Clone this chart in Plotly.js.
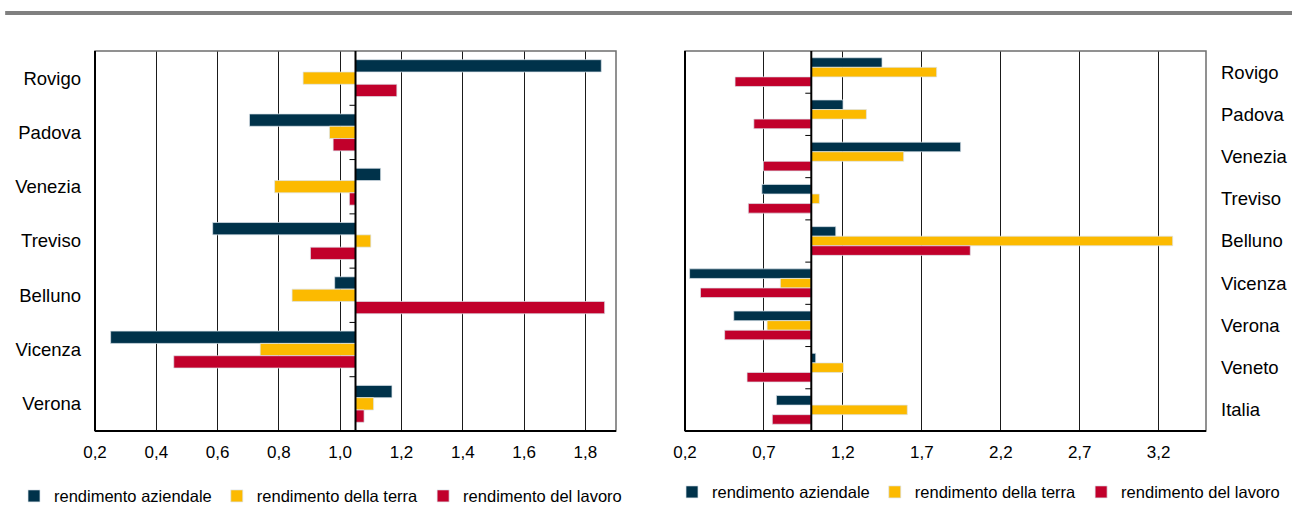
<!DOCTYPE html>
<html>
<head>
<meta charset="utf-8">
<script src="https://cdn.plot.ly/plotly-3.0.1.min.js"></script>
<style>
  html, body { margin: 0; padding: 0; background: #fff; }
  #chart { width: 1292px; height: 522px; }
</style>
</head>
<body>
<div id="chart"></div>
<script>
// ---- data (bar end values; bars start from the axis crossing value) ----
const seriesNames = ['rendimento aziendale', 'rendimento della terra', 'rendimento del lavoro'];

const leftCategories = ['Rovigo', 'Padova', 'Venezia', 'Treviso', 'Belluno', 'Vicenza', 'Verona'];
const leftAziendale = [1.852, 0.704, 1.132, 0.584, 0.982, 0.251, 1.169];
const leftTerra     = [0.879, 0.965, 0.786, 1.100, 0.843, 0.739, 1.109];
const leftLavoro    = [1.185, 0.977, 1.030, 0.903, 1.863, 0.457, 1.078];
const leftBase = 1.05;

const rightCategories = ['Rovigo', 'Padova', 'Venezia', 'Treviso', 'Belluno', 'Vicenza', 'Verona', 'Veneto', 'Italia'];
const rightAziendale = [1.448, 1.201, 1.946, 0.687, 1.155, 0.229, 0.509, 1.028, 0.779];
const rightTerra     = [1.794, 1.349, 1.585, 1.051, 3.289, 0.804, 0.720, 1.204, 1.608];
const rightLavoro    = [0.517, 0.636, 0.697, 0.601, 2.007, 0.298, 0.451, 0.593, 0.753];
const rightBase = 1.0;

const leftTicks = [0.2, 0.4, 0.6, 0.8, 1.0, 1.2, 1.4, 1.6, 1.8];
const rightTicks = [0.2, 0.7, 1.2, 1.7, 2.2, 2.7, 3.2];

// ---- styling ----
const colors = ['#00324A', '#FCBA00', '#C1002B'];
const FONT = 'Liberation Sans, Arial, Helvetica, sans-serif';

function makeTrace(cats, vals, base, i, xa, ya, legendId) {
  return {
    type: 'bar',
    orientation: 'h',
    name: seriesNames[i],
    y: cats,
    x: vals.map(v => v - base),
    base: vals.map(() => base),
    xaxis: xa,
    yaxis: ya,
    legend: legendId,
    marker: { color: colors[i], line: { color: 'rgba(220,228,235,0.9)', width: 0.8 } },
    hovertemplate: '%{y}: %{customdata}<extra>' + seriesNames[i] + '</extra>',
    customdata: vals
  };
}

const leftSeries = [leftAziendale, leftTerra, leftLavoro];
const rightSeries = [rightAziendale, rightTerra, rightLavoro];
const data = [];
leftSeries.forEach((s, i) => data.push(makeTrace(leftCategories, s, leftBase, i, 'x', 'y', 'legend')));
rightSeries.forEach((s, i) => data.push(makeTrace(rightCategories, s, rightBase, i, 'x2', 'y2', 'legend2')));

const shapes = [];
// top decorative rule
shapes.push({ type: 'line', xref: 'paper', yref: 'paper', x0: 0.004, x1: 1, y0: 1.1003, y1: 1.1003,
  line: { color: '#808080', width: 4 } });

function frame(xd, yd, xr, yr, base, nCats) {
  // grey border
  shapes.push({ type: 'rect', xref: xd, yref: yd, x0: 0, x1: 1, y0: 0, y1: 1,
    line: { color: '#6e6e6e', width: 1.5 }, layer: 'above' });
  // black left and bottom edges
  shapes.push({ type: 'line', xref: xd, yref: yd, x0: 0, x1: 0, y0: 0, y1: 1,
    line: { color: '#000', width: 2 }, layer: 'above' });
  shapes.push({ type: 'line', xref: xd, yref: yd, x0: 0, x1: 1, y0: 0, y1: 0,
    line: { color: '#000', width: 2.2 }, layer: 'above' });
  // vertical category axis at crossing value
  shapes.push({ type: 'line', xref: xr, yref: yd, x0: base, x1: base, y0: 0, y1: 1,
    line: { color: '#000', width: 2 }, layer: 'above' });
  // category tick marks
  for (let k = 0; k < nCats - 1; k++) {
    shapes.push({ type: 'line', xref: xr, yref: yr, xsizemode: 'pixel', xanchor: base,
      x0: -6, x1: 0, y0: k + 0.5, y1: k + 0.5, line: { color: '#000', width: 1 }, layer: 'above' });
  }
}
frame('x domain', 'y domain', 'x', 'y', leftBase, leftCategories.length);
frame('x2 domain', 'y2 domain', 'x2', 'y2', rightBase, rightCategories.length);

const axisFont = { family: FONT, size: 17, color: '#000' };
const catFont = { family: FONT, size: 18.5, color: '#000' };

const layout = {
  width: 1292, height: 522,
  margin: { l: 0, r: 0, t: 51, b: 91 },
  paper_bgcolor: '#fff', plot_bgcolor: '#fff',
  separators: ', ',
  font: { family: FONT, size: 17, color: '#000' },
  barmode: 'group', bargap: 0.32, bargroupgap: 0,
  showlegend: true,
  xaxis: {
    domain: [95 / 1292, 616 / 1292], range: [0.2, 1.9],
    tickvals: leftTicks, tickformat: '.1f', ticks: '',
    showgrid: true, gridcolor: '#1a1a1a', gridwidth: 1, zeroline: false, showline: false,
    tickfont: axisFont, ticklabelstandoff: 9
  },
  yaxis: {
    domain: [0, 1], type: 'category', categoryarray: leftCategories, categoryorder: 'array',
    autorange: 'reversed', showgrid: false, zeroline: false, showline: false, ticks: '',
    tickfont: catFont, ticklabelstandoff: 13
  },
  xaxis2: {
    domain: [685 / 1292, 1206 / 1292], range: [0.2, 3.5], anchor: 'y2',
    tickvals: rightTicks, tickformat: '.1f', ticks: '',
    showgrid: true, gridcolor: '#1a1a1a', gridwidth: 1, zeroline: false, showline: false,
    tickfont: axisFont, ticklabelstandoff: 9
  },
  yaxis2: {
    domain: [0, 1], anchor: 'x2', side: 'right', type: 'category',
    categoryarray: rightCategories, categoryorder: 'array',
    autorange: 'reversed', showgrid: false, zeroline: false, showline: false, ticks: '',
    tickfont: catFont, ticklabelstandoff: 14
  },
  legend: {
    orientation: 'h', x: 14 / 1292, xanchor: 'left', y: -0.1715, yanchor: 'middle',
    font: { family: FONT, size: 16.5, color: '#000' }, bgcolor: 'rgba(0,0,0,0)', traceorder: 'normal'
  },
  legend2: {
    orientation: 'h', x: 672 / 1292, xanchor: 'left', y: -0.161, yanchor: 'middle',
    font: { family: FONT, size: 16.5, color: '#000' }, bgcolor: 'rgba(0,0,0,0)', traceorder: 'normal'
  },
  shapes: shapes
};

Plotly.newPlot('chart', data, layout, { displayModeBar: false, staticPlot: true });
</script>
</body>
</html>
